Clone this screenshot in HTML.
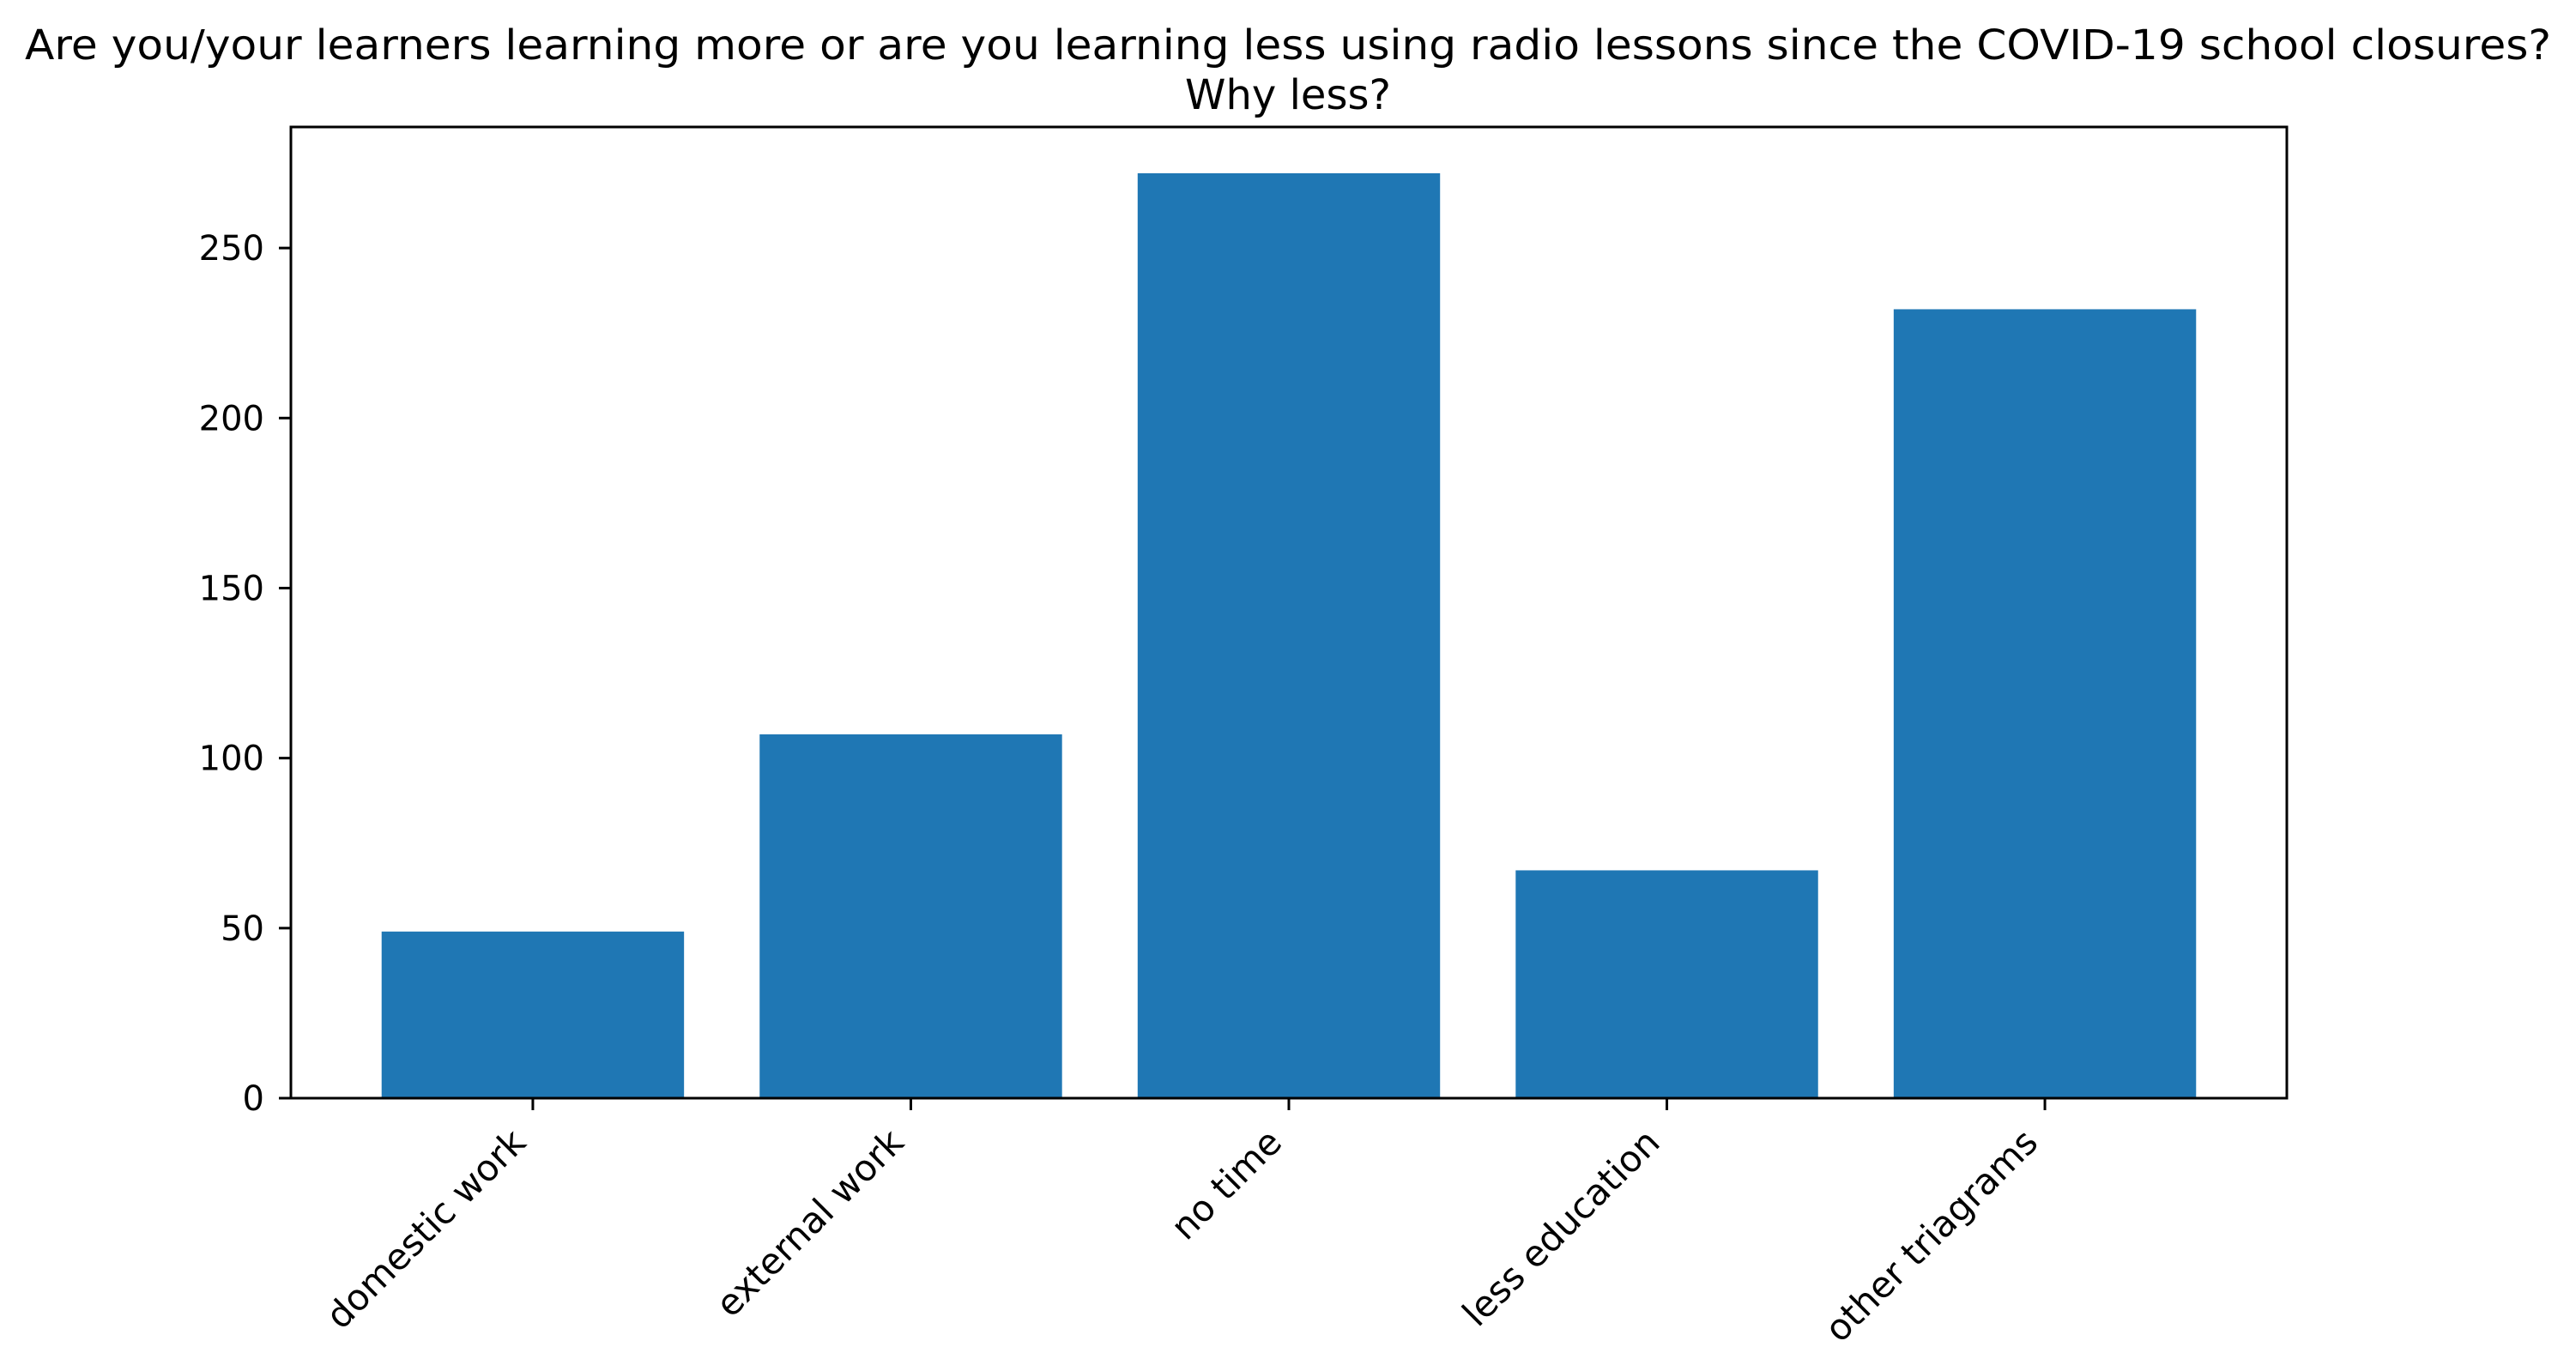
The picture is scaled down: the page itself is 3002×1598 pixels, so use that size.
<!DOCTYPE html>
<html><head><meta charset="utf-8"><style>html,body{margin:0;padding:0;background:#fff}svg{display:block}text{font-family:"DejaVu Sans","Liberation Sans",sans-serif;fill:#000}</style></head>
<body>
<svg id="chart" width="3002" height="1598" viewBox="0 0 3002 1598" xmlns="http://www.w3.org/2000/svg">
<rect x="0" y="0" width="3002" height="1598" fill="#fff"/>
<text x="1501" y="69" font-size="48" text-anchor="middle" textLength="2944" lengthAdjust="spacingAndGlyphs">Are you/your learners learning more or are you learning less using radio lessons since the COVID-19 school closures?</text>
<text x="1501" y="127" font-size="48" text-anchor="middle">Why less?</text>
<g id="bars"></g>
<g id="yticks"></g>
<g id="xticks"></g>
<rect x="339" y="148" width="2326" height="1132" fill="none" stroke="#000" stroke-width="3"/>
</svg>
<script>
const categories = ["domestic work", "external work", "no time", "less education", "other triagrams"];
const values = [49, 107, 272, 67, 232];
const yTickValues = [0, 50, 100, 150, 200, 250];

const NS = "http://www.w3.org/2000/svg";
const L = 339, R = 2665, T = 148, B = 1280;
const xMin = -0.64, xMax = categories.length - 1 + 0.64;
const yMax = Math.max(...values) * 1.05;
const xs = i => L + (i - xMin) / (xMax - xMin) * (R - L);
const ys = v => B - v / yMax * (B - T);
const step = (R - L) / (xMax - xMin);
const bw = 0.8 * step;

function mk(tag, attrs, parent) {
  const el = document.createElementNS(NS, tag);
  for (const k in attrs) el.setAttribute(k, attrs[k]);
  parent.appendChild(el);
  return el;
}
const gb = document.getElementById('bars');
const gy = document.getElementById('yticks');
const gx = document.getElementById('xticks');

values.forEach((v, i) => {
  const r = mk('rect', {x: xs(i) - bw / 2, y: ys(v), width: bw, height: B - ys(v), fill: '#1f77b4'}, gb);
  
  
});

yTickValues.forEach(t => {
  const y = ys(t);
  const ln = mk('line', {x1: L - 14, x2: L, y1: y, y2: y, stroke: '#000', 'stroke-width': 3}, gy);
  
  
  const tx = mk('text', {x: L - 31, y: y + 14, 'font-size': 40, 'text-anchor': 'end'}, gy);
  tx.textContent = String(t);
  
  
});

categories.forEach((c, i) => {
  const x = xs(i);
  const ln = mk('line', {x1: x, x2: x, y1: B, y2: B + 14, stroke: '#000', 'stroke-width': 3}, gx);
  
  
  const tx = mk('text', {x: 0, y: 0, 'font-size': 42, 'text-anchor': 'end', transform: 'translate(' + (x - 6) + ',' + (B + 54) + ') rotate(-45)'}, gx);
  tx.textContent = c;
  
  
});
</script>
</body></html>
